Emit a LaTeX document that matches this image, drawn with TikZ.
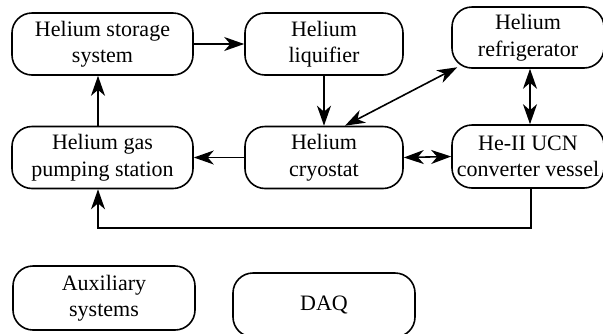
\documentclass[tikz,border=0pt]{standalone}
\usepackage{fontspec}
\setmainfont{Liberation Serif}
\usetikzlibrary{arrows.meta,calc}
\tikzset{
  head/.tip={Stealth[length=20pt,width=14pt,inset=6pt]},
  blk/.style={draw, line width=1.6pt, rounded corners=20pt, inner sep=0pt,
    align=center, font=\fontsize{22}{26.5}\selectfont},
  flow/.style={line width=1.6pt, -head},
  both/.style={line width=1.6pt, head-head}
}
\begin{document}
\begin{tikzpicture}[x=1pt,y=-1pt]
\useasboundingbox (0,0) rectangle (603,333);
% upper row
\node[blk, minimum width=181pt, minimum height=62pt] (store) at (102.5,44) {Helium storage\\system};
\node[blk, minimum width=158pt, minimum height=62pt] (liq) at (324,44) {Helium\\liquifier};
\node[blk, minimum width=152pt, minimum height=61pt] (fridge) at (528,37.5) {Helium\\refrigerator};
% middle row
\node[blk, minimum width=181pt, minimum height=62pt] (pump) at (102.5,157.5) {Helium gas\\pumping station};
\node[blk, minimum width=158pt, minimum height=62pt] (cryo) at (324,157.5) {Helium\\cryostat};
\node[blk, minimum width=152pt, minimum height=63pt] (ucn) at (528,156.5) {He-II UCN\\converter vessel};
% lower row
\node[blk, minimum width=182pt, minimum height=64pt] (aux) at (104,298) {Auxiliary\\systems};
\node[blk, minimum width=182pt, minimum height=64pt] (daq) at (324,305) {DAQ};
% connectors
\draw[flow] (store.east) -- (liq.west);
\draw[flow] (liq.south) -- (cryo.north);
\draw[flow] (cryo.west) -- (pump.east);
\draw[flow] (pump.north -| 98,0) -- (store.south -| 98,0);
\coordinate (fr) at ($(fridge.south west)+(6,-1.5)$);
\draw[both] ($(cryo.north)+(21,0)$) -- (fr);
\draw[both] (fridge.south -| 530,0) -- (ucn.north -| 530,0);
\draw[both] (cryo.east) -- (ucn.west);
\coordinate (c1) at (531,228);
\coordinate (c2) at (98,228);
\draw[flow] (ucn.south -| c1) -- (c1) -- (c2) -- (pump.south -| c2);
\end{tikzpicture}
\end{document}
